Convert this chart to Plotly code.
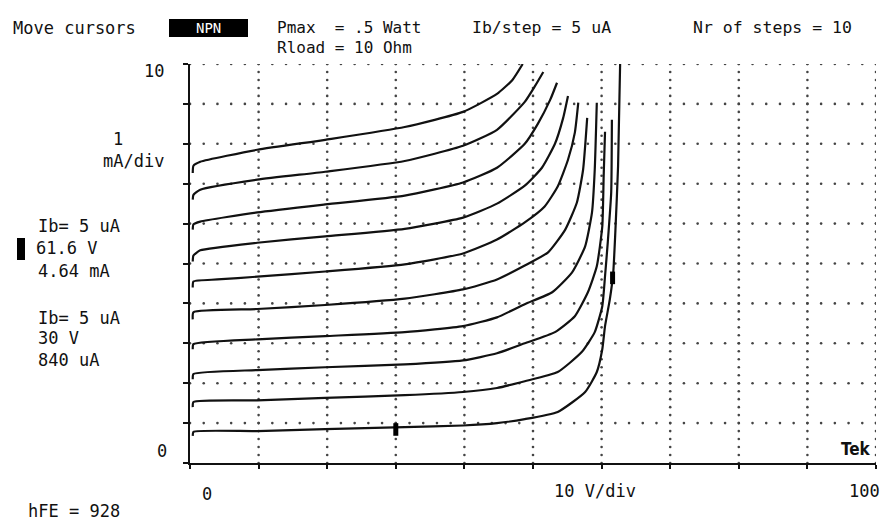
import plotly.graph_objects as go
import numpy as np

# ---- data ----
ib_steps_ua = [5, 10, 15, 20, 25, 30, 35, 40, 45, 50]

vce_5 = [0.4, 0.5, 9.8, 19.7, 31.3, 39.8, 44.75, 48.8, 53.6, 57.6, 59.3, 60.1, 60.5, 61.2, 61.7, 62.0, 62.4, 62.7]
ic_5 = [0.68, 0.78, 0.8, 0.85, 0.9, 0.94, 1.0, 1.1, 1.28, 1.78, 2.28, 2.85, 3.43, 4.1, 4.78, 5.78, 7.43, 10.0]

vce_10 = [0.4, 0.5, 9.8, 19.7, 31.3, 39.8, 44.75, 48.8, 53.6, 57.1, 59.0, 60.1, 60.5, 60.9, 61.4, 61.5]
ic_10 = [1.4, 1.53, 1.57, 1.63, 1.7, 1.78, 1.88, 2.05, 2.28, 2.78, 3.28, 3.93, 4.68, 5.53, 6.78, 8.6]

vce_15 = [0.4, 0.5, 9.8, 19.7, 31.3, 39.8, 44.75, 48.8, 53.2, 56.1, 58.0, 59.3, 60.1, 60.3, 60.5]
ic_15 = [2.1, 2.23, 2.33, 2.4, 2.47, 2.57, 2.75, 3.0, 3.28, 3.68, 4.28, 4.93, 5.93, 7.18, 8.3]

vce_20 = [0.4, 0.5, 9.8, 19.7, 31.3, 39.8, 44.75, 48.8, 52.8, 55.7, 57.6, 58.6, 59.0, 59.3]
ic_20 = [2.85, 2.98, 3.1, 3.18, 3.28, 3.43, 3.65, 3.98, 4.28, 4.78, 5.43, 6.28, 7.35, 9.03]

vce_25 = [0.4, 0.5, 9.8, 19.7, 31.3, 39.8, 44.75, 48.8, 52.2, 54.7, 56.4, 57.3, 57.9]
ic_25 = [3.6, 3.78, 3.86, 3.96, 4.12, 4.35, 4.6, 4.95, 5.28, 5.85, 6.53, 7.35, 8.65]

vce_30 = [0.4, 0.5, 4.0, 9.8, 19.7, 31.3, 39.8, 44.75, 48.8, 51.7, 53.6, 55.1, 56.1, 56.6]
ic_30 = [4.4, 4.55, 4.6, 4.67, 4.8, 4.98, 5.25, 5.6, 6.03, 6.43, 6.93, 7.6, 8.28, 9.03]

vce_35 = [0.4, 0.5, 1.5, 9.8, 19.7, 31.3, 39.8, 44.75, 48.8, 51.3, 53.2, 54.4, 55.1]
ic_35 = [5.05, 5.2, 5.33, 5.52, 5.68, 5.87, 6.15, 6.5, 6.95, 7.4, 8.0, 8.65, 9.2]

vce_40 = [0.4, 0.5, 1.5, 9.8, 19.7, 31.3, 39.8, 44.75, 48.8, 50.7, 52.5, 53.5]
ic_40 = [5.85, 5.98, 6.05, 6.28, 6.48, 6.7, 7.03, 7.4, 8.0, 8.5, 9.1, 9.53]

vce_45 = [0.4, 0.5, 1.5, 9.8, 19.7, 31.3, 39.8, 44.75, 48.8, 50.3, 51.5]
ic_45 = [6.6, 6.72, 6.85, 7.1, 7.3, 7.57, 7.95, 8.35, 9.05, 9.45, 9.8]

vce_50 = [0.4, 0.5, 1.5, 9.8, 19.7, 31.3, 39.8, 44.75, 47.0, 48.5]
ic_50 = [7.27, 7.45, 7.55, 7.85, 8.1, 8.42, 8.8, 9.25, 9.6, 10.0]

cursor_v = [61.6, 30.0]
cursor_i = [4.64, 0.84]

x_major = [0, 10, 20, 30, 40, 50, 60, 70, 80, 90, 100]   # 10 V/div
y_major = [0, 1, 2, 3, 4, 5, 6, 7, 8, 9, 10]              # 1 mA/div

curves_v = [vce_5, vce_10, vce_15, vce_20, vce_25, vce_30, vce_35, vce_40, vce_45, vce_50]
curves_i = [ic_5, ic_10, ic_15, ic_20, ic_25, ic_30, ic_35, ic_40, ic_45, ic_50]

# ---- figure ----
W, H = 882, 520
L, R, T, B = 190, 6, 64, 57
PW, PH = W - L - R, H - T - B


def px_x(p):
    return (p - L) / PW


def px_y(p):
    return (H - B - p) / PH


fig = go.Figure()

# dotted graticule: 5 dots per division along every major line
sub_x = (x_major[1] - x_major[0]) / 5
sub_y = (y_major[1] - y_major[0]) / 5
dots_x, dots_y = [], []
for xv in x_major[1:]:
    ys = np.arange(y_major[0], y_major[-1] + 1e-9, sub_y)
    dots_x += [xv] * len(ys)
    dots_y += list(ys)
for yv in y_major[1:]:
    xs = np.arange(x_major[0], x_major[-1] + 1e-9, sub_x)
    dots_x += list(xs)
    dots_y += [yv] * len(xs)
fig.add_trace(go.Scatter(x=dots_x, y=dots_y, mode="markers",
                         marker=dict(size=2.6, color="#444"),
                         hoverinfo="skip", showlegend=False))

for ib, v, i in zip(ib_steps_ua, curves_v, curves_i):
    fig.add_trace(go.Scatter(x=v, y=i, mode="lines",
                             line=dict(color="#111", width=2.2, shape="spline", smoothing=0.5),
                             name=f"Ib = {ib} uA", showlegend=False, cliponaxis=True))

fig.add_trace(go.Scatter(x=cursor_v, y=cursor_i, mode="markers",
                         marker=dict(symbol="line-ns", size=9,
                                     line=dict(color="#000", width=5)),
                         showlegend=False, hoverinfo="skip"))

fig.update_xaxes(range=[x_major[0], x_major[-1]], tickvals=x_major, showticklabels=False,
                 showgrid=False, zeroline=False, showline=True, linecolor="#111",
                 linewidth=2, ticks="outside", ticklen=4, tickcolor="#111", tickwidth=2)
fig.update_yaxes(range=[y_major[0], y_major[-1]], tickvals=y_major, showticklabels=False,
                 showgrid=False, zeroline=False, showline=True, linecolor="#111",
                 linewidth=2, ticks="outside", ticklen=5, tickcolor="#111", tickwidth=2)

FONT = "DejaVu Sans Mono"
FS = 17


def txt(s, x, y, anchor="left", size=FS, color="#111", family=FONT):
    fig.add_annotation(text=s, x=px_x(x), y=px_y(y), xref="paper", yref="paper",
                       xanchor=anchor, yanchor="middle", showarrow=False,
                       font=dict(family=family, size=size, color=color))


# header
txt("Move cursors", 11, 28)
fig.add_shape(type="rect", xref="paper", yref="paper",
              x0=px_x(169), x1=px_x(248), y0=px_y(37), y1=px_y(19),
              fillcolor="#000", line=dict(width=0))
txt("NPN", 208, 28, anchor="center", size=14, color="#fff")
txt("Pmax  = .5 Watt", 275, 27, size=16)
txt("Rload = 10 Ohm", 275, 47, size=16)
txt("Ib/step = 5 uA", 470, 27, size=16.5)
txt("Nr of steps = 10", 691, 27, size=16.5)

# y axis labels
txt("10", 166, 71, anchor="right")
txt("1", 118, 139, anchor="center")
txt("mA/div", 166, 161, anchor="right")
txt("0", 169, 451, anchor="right")

# cursor readouts
fig.add_shape(type="rect", xref="paper", yref="paper",
              x0=px_x(17), x1=px_x(25), y0=px_y(260), y1=px_y(238),
              fillcolor="#000", line=dict(width=0))
txt("Ib= 5 uA", 36, 226)
txt("61.6 V", 34, 248)
txt("4.64 mA", 36, 271)
txt("Ib= 5 uA", 36, 318)
txt("30 V", 36, 338)
txt("840 uA", 36, 360)

# x axis labels
txt("0", 207, 494, anchor="center")
txt("10 V/div", 552, 491)
txt("100", 882, 491, anchor="right")
txt("hFE = 928", 26, 511)
txt("<b>Tek</b>", 856, 449, anchor="center", size=17, family="DejaVu Sans Condensed")

fig.update_layout(width=W, height=H, autosize=False,
                  margin=dict(l=L, r=R, t=T, b=B, pad=0),
                  paper_bgcolor="white", plot_bgcolor="white",
                  showlegend=False)

fig.write_html("out.html")
